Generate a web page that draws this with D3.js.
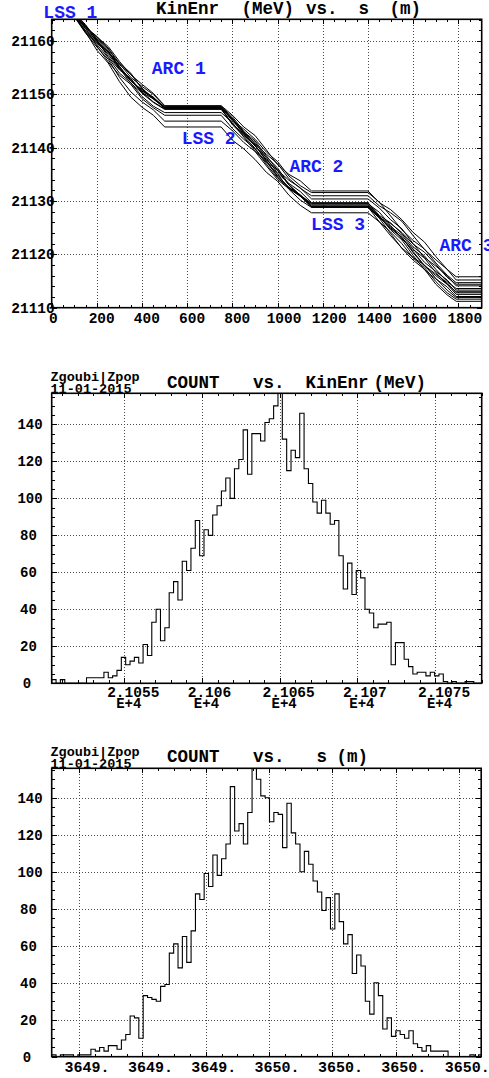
<!DOCTYPE html>
<html>
<head>
<meta charset="utf-8">
<script src="https://cdn.jsdelivr.net/npm/d3@7"></script>
<style>
  html, body { margin: 0; padding: 0; background: #fff; }
  svg { display: block; }
  text { font-family: "Liberation Mono", "DejaVu Sans Mono", monospace; font-weight: bold; }
</style>
</head>
<body>
<script>
// ---------- Panel 1: kinetic energy of tracked particles along the ring ----------
// s (m) sample points; energies (MeV) of each tracked particle at those points
const sNodes = [0, 100, 150, 200, 250, 300, 350, 400, 450, 500,
                750, 800, 850, 900, 950, 1000, 1050, 1100, 1150,
                1400, 1450, 1500, 1550, 1600, 1650, 1700, 1750, 1790, 1903];
const track01 = [21165.0, 21165.0, 21162.6, 21160.8, 21159.0, 21156.2, 21153.7, 21151.9, 21150.2, 21147.9, 21147.9, 21146.1, 21143.9, 21142.3, 21139.6, 21136.8, 21135.0, 21133.8, 21131.9, 21131.9, 21129.7, 21128.4, 21126.5, 21124.1, 21122.3, 21119.6, 21117.2, 21115.8, 21115.8];
const track02 = [21164.9, 21164.9, 21162.9, 21160.5, 21158.7, 21155.8, 21153.2, 21151.5, 21150.0, 21147.8, 21147.8, 21145.2, 21143.5, 21141.6, 21139.2, 21137.4, 21134.7, 21132.9, 21131.6, 21131.6, 21129.8, 21127.2, 21124.6, 21122.6, 21121.0, 21118.4, 21116.1, 21114.7, 21114.7];
const track03 = [21165.2, 21165.2, 21162.6, 21160.9, 21158.5, 21155.6, 21153.8, 21151.2, 21149.2, 21147.7, 21147.7, 21145.8, 21143.1, 21140.7, 21138.8, 21137.0, 21134.2, 21132.4, 21131.0, 21131.0, 21129.1, 21127.8, 21126.2, 21123.5, 21120.9, 21119.0, 21117.2, 21115.2, 21115.2];
const track04 = [21164.8, 21164.8, 21162.9, 21160.2, 21157.8, 21155.9, 21154.0, 21151.0, 21149.1, 21147.6, 21147.6, 21145.0, 21143.0, 21141.3, 21138.5, 21135.8, 21133.9, 21132.5, 21130.4, 21130.4, 21128.7, 21126.5, 21124.8, 21122.0, 21119.4, 21117.8, 21116.0, 21114.1, 21114.1];
const track05 = [21165.1, 21165.1, 21162.3, 21160.0, 21158.1, 21155.2, 21152.6, 21150.7, 21149.4, 21147.5, 21147.5, 21145.4, 21142.8, 21141.0, 21138.1, 21135.2, 21133.3, 21131.8, 21129.7, 21129.7, 21127.3, 21125.9, 21123.9, 21121.4, 21119.7, 21117.2, 21114.9, 21113.6, 21113.6];
const track06 = [21164.7, 21164.7, 21162.8, 21160.4, 21158.2, 21155.0, 21152.5, 21150.9, 21149.5, 21147.4, 21147.4, 21144.5, 21142.6, 21140.4, 21137.8, 21135.8, 21133.0, 21131.0, 21129.5, 21129.5, 21127.9, 21125.4, 21122.9, 21120.9, 21119.3, 21116.6, 21114.4, 21113.0, 21113.0];
const track07 = [21164.9, 21164.9, 21161.9, 21159.8, 21157.5, 21154.8, 21153.0, 21150.4, 21148.6, 21147.3, 21147.3, 21145.5, 21142.9, 21140.3, 21138.3, 21136.2, 21133.1, 21131.0, 21129.3, 21129.3, 21126.9, 21125.0, 21123.2, 21120.3, 21117.8, 21116.0, 21114.4, 21112.5, 21112.5];
const track08 = [21165.3, 21165.3, 21163.1, 21160.1, 21157.1, 21154.6, 21152.9, 21150.2, 21148.5, 21147.2, 21147.2, 21144.5, 21142.4, 21140.5, 21137.6, 21134.7, 21132.6, 21131.2, 21129.1, 21129.1, 21127.1, 21124.6, 21122.7, 21119.8, 21117.1, 21115.4, 21113.9, 21112.1, 21112.1];
const track09 = [21164.8, 21164.8, 21161.9, 21159.6, 21158.0, 21155.3, 21152.6, 21150.6, 21149.4, 21147.6, 21147.6, 21145.3, 21142.5, 21140.5, 21137.5, 21134.5, 21132.4, 21131.0, 21128.9, 21128.9, 21126.1, 21124.2, 21122.0, 21119.3, 21117.5, 21114.9, 21112.8, 21111.6, 21111.6];
const track10 = [21165.0, 21165.0, 21162.7, 21159.9, 21157.9, 21154.9, 21152.1, 21150.3, 21149.2, 21147.4, 21147.4, 21144.3, 21142.2, 21139.9, 21137.2, 21135.1, 21132.2, 21130.2, 21128.8, 21128.8, 21126.8, 21123.9, 21121.1, 21118.9, 21117.2, 21114.4, 21112.4, 21111.2, 21111.2];
const track11 = [21164.7, 21164.7, 21161.6, 21159.4, 21156.9, 21154.0, 21152.2, 21149.6, 21147.8, 21146.6, 21146.6, 21144.7, 21142.0, 21139.4, 21137.4, 21135.7, 21133.0, 21131.1, 21129.6, 21129.6, 21127.1, 21125.2, 21123.6, 21121.0, 21118.5, 21116.8, 21115.2, 21113.3, 21113.3];
const track12 = [21164.9, 21164.9, 21162.4, 21159.1, 21156.1, 21153.6, 21151.9, 21149.2, 21147.5, 21146.1, 21146.1, 21143.6, 21141.6, 21139.8, 21136.9, 21134.3, 21132.5, 21131.1, 21129.0, 21129.0, 21127.1, 21124.8, 21123.2, 21120.5, 21117.9, 21116.3, 21114.7, 21112.8, 21112.8];
const track13 = [21164.6, 21164.6, 21161.5, 21158.9, 21156.6, 21153.2, 21150.5, 21148.6, 21147.1, 21145.0, 21145.0, 21143.2, 21141.0, 21139.3, 21136.6, 21134.0, 21132.3, 21130.9, 21128.9, 21128.9, 21126.9, 21125.8, 21124.1, 21121.9, 21120.4, 21118.1, 21115.7, 21114.4, 21114.4];
const track14 = [21164.7, 21164.7, 21161.7, 21158.3, 21155.9, 21152.4, 21149.5, 21147.6, 21146.1, 21143.9, 21143.9, 21141.4, 21139.8, 21137.8, 21135.4, 21133.7, 21131.1, 21129.2, 21127.8, 21127.8, 21126.1, 21123.5, 21121.2, 21119.4, 21118.0, 21115.5, 21113.3, 21111.9, 21111.9];
const tracks = [track01, track02, track03, track04, track05, track06, track07,
                track08, track09, track10, track11, track12, track13, track14];

const sTicks = [0, 200, 400, 600, 800, 1000, 1200, 1400, 1600, 1800];
const energyTicks = [21110, 21120, 21130, 21140, 21150, 21160];

// Lattice section names and where they are written (s in m, energy in MeV)
const sectionNames = ["LSS 1", "ARC 1", "LSS 2", "ARC 2", "LSS 3", "ARC 3"];
const sectionS = [-37, 443, 575, 1052, 1148, 1716];
const sectionE = [21164.3, 21153.8, 21140.7, 21135.5, 21124.6, 21120.7];

// ---------- Panel 2: COUNT vs. KinEnr (MeV) histogram ----------
const kinEnrBinStart = 21050.33;
const kinEnrBinWidth = 0.28;
const kinEnrCounts = [
  2, 0, 2, 0, 0, 0, 0, 0, 3, 3,
  3, 3, 6, 3, 4, 7, 14, 10, 12, 14,
  11, 21, 15, 33, 40, 23, 30, 49, 55, 45,
  66, 61, 73, 88, 69, 83, 80, 91, 96, 104,
  111, 100, 116, 121, 137, 113, 135, 135, 131, 141,
  143, 150, 157, 132, 115, 126, 122, 146, 116, 108,
  98, 92, 99, 92, 86, 88, 69, 51, 65, 48,
  61, 57, 40, 38, 30, 32, 32, 33, 10, 22,
  22, 13, 9, 5, 6, 6, 4, 6, 4, 5,
  1, 0, 1, 0, 0, 1, 1, 0, 0
];
const kinEnrTicks = [21055, 21060, 21065, 21070, 21075];
const kinEnrTickLabels = ["2.1055", "2.106", "2.1065", "2.107", "2.1075"];
const kinEnrTickExponent = "E+4";

// ---------- Panel 3: COUNT vs. s (m) histogram ----------
const sBinStart = 3649.3137;
const sBinWidth = 0.01375;
const sCounts = [
  1, 0, 1, 1, 1, 0, 1, 1, 1, 4,
  3, 5, 3, 6, 6, 4, 9, 12, 22, 21,
  10, 33, 32, 31, 30, 38, 39, 56, 61, 48,
  65, 51, 68, 88, 85, 99, 92, 109, 98, 107,
  115, 146, 122, 126, 115, 132, 156, 150, 141, 140,
  127, 132, 131, 113, 137, 121, 115, 100, 111, 104,
  95, 89, 79, 86, 69, 88, 73, 61, 66, 45,
  55, 49, 30, 23, 40, 33, 15, 21, 11, 14,
  12, 10, 14, 7, 5, 3, 6, 3, 3, 3,
  3, 0, 0, 0, 0, 0, 1, 0, 1
];
const sHistTicks = [3649.4, 3649.6, 3649.8, 3650.0, 3650.2, 3650.4, 3650.6];
const sHistTickLabels = ["3649.", "3649.", "3649.", "3650.", "3650.", "3650.", "3650."];

const countTicks = [0, 20, 40, 60, 80, 100, 120, 140];

const headerLines = ["Zgoubi|Zpop", "11-01-2015"];

// ---------- drawing ----------
const W = 489, H = 1078;
const svg = d3.select("body").append("svg").attr("width", W).attr("height", H);

function text(g, str, x, y, size, anchor, fill) {
  return g.append("text")
    .attr("x", x).attr("y", y)
    .attr("font-size", size)
    .attr("text-anchor", anchor || "start")
    .attr("fill", fill || "#000")
    .attr("xml:space", "preserve")
    .text(str);
}

// Dotted grid, inward ticks on all four sides and the box.
function drawFrame(x, y, xMajor, xMinor, xGrid, yMajor, yMinor, yGrid) {
  const [left, right] = x.range();
  const [bottom, top] = y.range();
  const g = svg.append("g");

  const grid = g.append("g");
  grid.append("g").attr("transform", `translate(0,${bottom})`)
    .call(d3.axisBottom(x).tickValues(xGrid).tickSize(top - bottom).tickFormat(""));
  grid.append("g").attr("transform", `translate(${left},0)`)
    .call(d3.axisLeft(y).tickValues(yGrid).tickSize(left - right).tickFormat(""));
  grid.selectAll(".domain").remove();
  grid.selectAll("line")
    .attr("stroke", "#4a4a4a").attr("stroke-width", 1)
    .attr("stroke-dasharray", "1,2").attr("shape-rendering", "crispEdges");

  const ticks = g.append("g");
  const sides = [
    [d3.axisBottom, x, xMajor, xMinor, `translate(0,${bottom})`],
    [d3.axisTop, x, xMajor, xMinor, `translate(0,${top})`],
    [d3.axisLeft, y, yMajor, yMinor, `translate(${left},0)`],
    [d3.axisRight, y, yMajor, yMinor, `translate(${right},0)`]
  ];
  sides.forEach(([axis, sc, major, minor, tr]) => {
    ticks.append("g").attr("transform", tr)
      .call(axis(sc).tickValues(minor).tickSize(-3).tickFormat(""));
    ticks.append("g").attr("transform", tr)
      .call(axis(sc).tickValues(major).tickSize(-5).tickFormat(""));
  });
  ticks.selectAll(".domain").remove();
  ticks.selectAll("line").attr("stroke", "#000").attr("stroke-width", 1)
    .attr("shape-rendering", "crispEdges");

  g.append("rect")
    .attr("x", left).attr("y", top)
    .attr("width", right - left).attr("height", bottom - top)
    .attr("fill", "none").attr("stroke", "#000").attr("stroke-width", 1.6);
  return g;
}

function clipFor(id, x, y) {
  const [left, right] = x.range();
  const [bottom, top] = y.range();
  svg.append("clipPath").attr("id", id).append("rect")
    .attr("x", left).attr("y", top).attr("width", right - left).attr("height", bottom - top);
  return `url(#${id})`;
}

// ===== Panel 1 =====
{
  const x = d3.scaleLinear().domain([0, 1903]).range([51.7, 481.7]);
  const y = d3.scaleLinear().domain([21110, 21164.1]).range([307.7, 19.3]);
  const minorS = d3.range(0, 1901, 50);
  const minorE = d3.range(21110, 21165, 2);
  drawFrame(x, y, sTicks, minorS, sTicks.filter(v => v > 0),
            energyTicks, minorE, energyTicks.filter(v => v > 21110));

  const line = d3.line().x(d => x(d[0])).y(d => y(d[1]));
  svg.append("g").attr("clip-path", clipFor("clip1", x, y))
    .selectAll("path").data(tracks).join("path")
    .attr("d", tr => line(tr.map((e, i) => [sNodes[i], e])))
    .attr("fill", "none").attr("stroke", "#000").attr("stroke-width", 1);

  const lab = svg.append("g");
  sTicks.forEach(v => {
    const s = String(v);
    text(lab, s, x(v) + 1.6 * s.length, 323.3, 14.5, "middle");
  });
  energyTicks.forEach(v => text(lab, String(v), 33, y(v) + 5, 14.5, "middle"));

  // title
  const tg = svg.append("g");
  [["KinEnr", 156], ["(MeV)", 241.5], ["vs.", 306], ["s", 358.5], ["(m)", 389.5]]
    .forEach(([t, px]) => text(tg, t, px, 13.5, 17.5));

  const sg = svg.append("g");
  sectionNames.forEach((name, i) =>
    text(sg, name, x(sectionS[i]), y(sectionE[i]), 18, "start", "#1a1aff"));
}

// ===== Histogram panels =====
function histogram(counts, binStart, binWidth, x, y, clipId) {
  const pts = [[binStart, 0]];
  counts.forEach((c, i) => pts.push([binStart + i * binWidth, c]));
  const end = binStart + counts.length * binWidth;
  pts.push([end, counts[counts.length - 1]]);
  pts.push([end, 0]);
  const line = d3.line().x(d => x(d[0])).y(d => y(d[1])).curve(d3.curveStepAfter);
  svg.append("path")
    .attr("clip-path", clipFor(clipId, x, y))
    .attr("d", line(pts))
    .attr("fill", "none").attr("stroke", "#000").attr("stroke-width", 1.1);
}

function countLabels(y) {
  const g = svg.append("g");
  countTicks.forEach(v => {
    const s = String(v);
    text(g, s, 25.5 + 1.5 * s.length, y(v) + 5, 14, "middle");
  });
}

function header(top, titleParts, titleBase) {
  const g = svg.append("g");
  text(g, headerLines[0], 50.5, top - 12.5, 13.5);
  text(g, headerLines[1], 50.5, top - 0.8, 13.5);
  titleParts.forEach(([t, px]) => text(g, t, px, titleBase, 17.5));
}

// ===== Panel 2 =====
{
  const x = d3.scaleLinear().domain([21050.33, 21078.0]).range([51.7, 481.7]);
  const y = d3.scaleLinear().domain([0, 156.8]).range([683.3, 393.3]);
  drawFrame(x, y, kinEnrTicks, d3.range(21051, 21078.01, 1), kinEnrTicks,
            countTicks, d3.range(0, 156, 5), countTicks.filter(v => v > 0));
  histogram(kinEnrCounts, kinEnrBinStart, kinEnrBinWidth, x, y, "clip2");
  countLabels(y);
  const g = svg.append("g");
  // mantissa with the exponent written on a second line
  kinEnrTicks.forEach((v, i) => {
    const s = kinEnrTickLabels[i];
    const t = g.append("text").attr("font-size", 14.5).attr("text-anchor", "middle");
    t.append("tspan").attr("x", x(v) + 1.5 * s.length).attr("y", 696.5).text(s);
    t.append("tspan").attr("x", x(v) + 4.5).attr("dy", 11).attr("font-size", 14)
      .text(kinEnrTickExponent);
  });
  header(393.3, [["COUNT", 167], ["vs.", 253], ["KinEnr", 305.5], ["(MeV)", 373.5]], 387.5);
}

// ===== Panel 3 =====
{
  const x = d3.scaleLinear().domain([3649.3137, 3650.6695]).range([51.7, 481.2]);
  const y = d3.scaleLinear().domain([0, 155.9]).range([1056.7, 768.3]);
  drawFrame(x, y, sHistTicks, d3.range(3649.35, 3650.67, 0.05), sHistTicks,
            countTicks, d3.range(0, 156, 5), countTicks.filter(v => v > 0));
  histogram(sCounts, sBinStart, sBinWidth, x, y, "clip3");
  countLabels(y);
  const g = svg.append("g");
  sHistTicks.forEach((v, i) => {
    const s = sHistTickLabels[i];
    text(g, s, x(v) + 1.6 * s.length, 1071.7, 15, "middle");
  });
  header(768.3, [["COUNT", 167], ["vs.", 253], ["s", 316.5], ["(m)", 336.5]], 762);
}
</script>
</body>
</html>
